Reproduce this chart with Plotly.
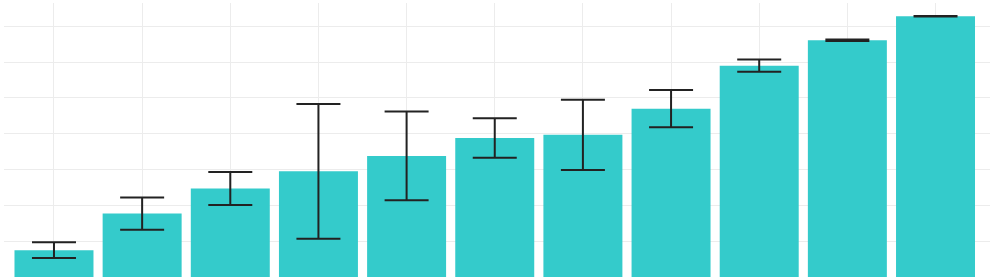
import plotly.graph_objects as go

categories = ["A", "B", "C", "D", "E", "F", "G", "H", "I", "J", "K"]
values = [0.75, 1.77, 2.47, 2.95, 3.38, 3.88, 3.97, 4.70, 5.90, 6.61, 7.28]
errors = [0.22, 0.45, 0.46, 1.88, 1.24, 0.55, 0.98, 0.52, 0.17, 0.02, 0.01]

fig = go.Figure(
    go.Bar(
        x=categories,
        y=values,
        width=0.896,
        marker=dict(color="rgb(52,203,203)", line=dict(width=0)),
        error_y=dict(type="data", array=errors, visible=True,
                     color="#222222", thickness=2, width=22),
    )
)

fig.update_layout(
    width=990, height=279,
    margin=dict(l=4, r=0, t=3, b=2),
    paper_bgcolor="white", plot_bgcolor="white",
    showlegend=False,
    xaxis=dict(range=[-0.567, 10.618], showgrid=True, gridcolor="#ececec",
               gridwidth=1, showticklabels=False, ticks="", zeroline=False,
               showline=False),
    yaxis=dict(range=[0, 7.65], dtick=1, showgrid=True, gridcolor="#ececec",
               gridwidth=1, showticklabels=False, ticks="", zeroline=False,
               showline=False),
)

fig.write_html("out.html")
